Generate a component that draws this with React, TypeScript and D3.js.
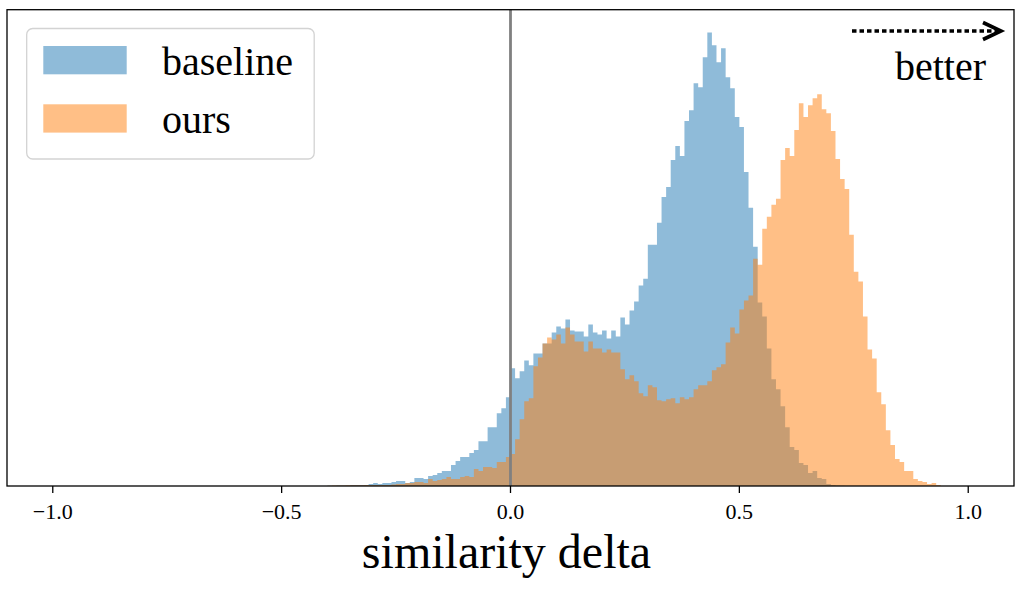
import React from "react";
import * as d3 from "d3";

// histogram bins: [BIN_START + i*BIN_WIDTH, BIN_START + (i+1)*BIN_WIDTH)
const BIN_START = -0.4;
const BIN_WIDTH = 0.01;

const baselineCounts = [
  0.3, 0.3, 0.5, 0.5, 0.5, 1, 1, 1, 1, 2,
  3, 2, 3, 3, 4, 5, 5, 3, 4, 8,
  8, 7, 10, 11, 13, 15, 15, 21, 25, 29,
  29, 33, 36, 45, 45, 59, 59, 73, 78, 89,
  118, 108, 115, 126, 121, 133, 133, 143, 143, 154,
  160, 158, 167, 156, 155, 155, 150, 162, 154, 152,
  156, 148, 156, 150, 169, 162, 176, 185, 201, 208,
  242, 242, 264, 290, 300, 327, 341, 331, 366, 377,
  404, 400, 430, 455, 442, 425, 439, 410, 399, 370,
  360, 315, 279, 240, 184, 170, 138, 107, 97, 80,
  59, 39, 36, 23, 21, 13, 15, 8, 7, 2,
  1, 0.5, 0.3,
];

const oursCounts = [
  0.3, 0.5, 0.5, 0.5, 0.7, 0.7, 0.7, 0.7, 1, 1,
  1, 1, 1, 1, 1.5, 2, 2, 3, 3, 4,
  4, 3, 7, 5, 6, 7, 9, 7, 7, 9,
  10, 9, 17, 15, 19, 19, 18, 24, 24, 29,
  32, 47, 67, 85, 88, 120, 129, 143, 149, 147,
  152, 143, 159, 152, 145, 145, 135, 145, 138, 138,
  134, 137, 134, 134, 117, 107, 111, 105, 93, 90,
  101, 99, 86, 85, 87, 88, 83, 89, 87, 89,
  97, 101, 101, 105, 116, 119, 122, 144, 159, 153,
  177, 186, 191, 228, 222, 258, 270, 282, 288, 327,
  339, 331, 357, 384, 370, 382, 389, 393, 378, 374,
  356, 328, 308, 298, 252, 215, 205, 170, 137, 128,
  94, 82, 56, 41, 27, 24, 15, 15, 7, 5,
  4, 2, 3, 1,
];

const xTicks = [-1.0, -0.5, 0.0, 0.5, 1.0];
const seriesNames = ["baseline", "ours"];
const seriesColors = ["#1f77b4", "#ff7f0e"];
const xLabel = "similarity delta";
const arrowLabel = "better";

const FONT = "'Liberation Serif', 'Times New Roman', Times, serif";

type Bin = { x0: number; v: number };

function toBins(arr: number[]): Bin[] {
  const bins: Bin[] = arr.map((v, i) => ({ x0: BIN_START + i * BIN_WIDTH, v }));
  bins.push({ x0: BIN_START + arr.length * BIN_WIDTH, v: 0 });
  return bins;
}

export default function App() {
  const W = 1027;
  const H = 610;
  const left = 7;
  const right = 1014;
  const top = 9.7;
  const bottom = 486;

  const x = d3.scaleLinear().domain([-1.1, 1.1]).range([left, right]);
  const maxV = Math.max(...baselineCounts, ...oursCounts);
  const y = d3.scaleLinear().domain([0, maxV * 1.05]).range([bottom, top]);

  const area = d3
    .area<Bin>()
    .x((d) => x(d.x0))
    .y0(y(0))
    .y1((d) => y(d.v))
    .curve(d3.curveStepAfter);

  const series = [baselineCounts, oursCounts];
  const fmt = d3.format(".1f");

  return (
    <svg
      width={W}
      height={H}
      style={{ position: "absolute", left: 0, top: 0, background: "#fff" }}
      fontFamily={FONT}
    >
      <rect x={0} y={0} width={W} height={H} fill="#fff" />
      {series.map((s, k) => (
        <path key={k} d={area(toBins(s)) || ""} fill={seriesColors[k]} fillOpacity={0.5} />
      ))}
      <line x1={x(0)} x2={x(0)} y1={top} y2={bottom} stroke="#808080" strokeWidth={2.8} />
      <rect
        x={left}
        y={top}
        width={right - left}
        height={bottom - top}
        fill="none"
        stroke="#000"
        strokeWidth={1.3}
      />
      {xTicks.map((t) => (
        <g key={t}>
          <line x1={x(t)} x2={x(t)} y1={bottom} y2={bottom + 7} stroke="#000" strokeWidth={1.3} />
          <text x={x(t)} y={519} fontSize={22} textAnchor="middle" fill="#000">
            {fmt(t)}
          </text>
        </g>
      ))}
      <text x={506.5} y={568} fontSize={48} textAnchor="middle" fill="#000">
        {xLabel}
      </text>

      {/* legend */}
      <rect
        x={26.7}
        y={28.5}
        width={287.5}
        height={130.5}
        rx={6}
        fill="#fff"
        fillOpacity={0.8}
        stroke="#d3d3d3"
        strokeWidth={1.3}
      />
      {seriesNames.map((n, k) => (
        <g key={n}>
          <rect
            x={43.3}
            y={46 + k * 58.3}
            width={83.4}
            height={28.3}
            fill={seriesColors[k]}
            fillOpacity={0.5}
          />
          <text x={162} y={74.5 + k * 58.4} fontSize={40} fill="#000">
            {n}
          </text>
        </g>
      ))}

      {/* better arrow */}
      <line
        x1={852}
        x2={997}
        y1={31}
        y2={31}
        stroke="#000"
        strokeWidth={3.6}
        strokeDasharray="4.5 3"
      />
      <path
        d="M 983 22.5 L 1001 31 L 983 39.5"
        fill="none"
        stroke="#000"
        strokeWidth={3.6}
      />
      <text x={986} y={80} fontSize={40} textAnchor="end" fill="#000">
        {arrowLabel}
      </text>
    </svg>
  );
}
